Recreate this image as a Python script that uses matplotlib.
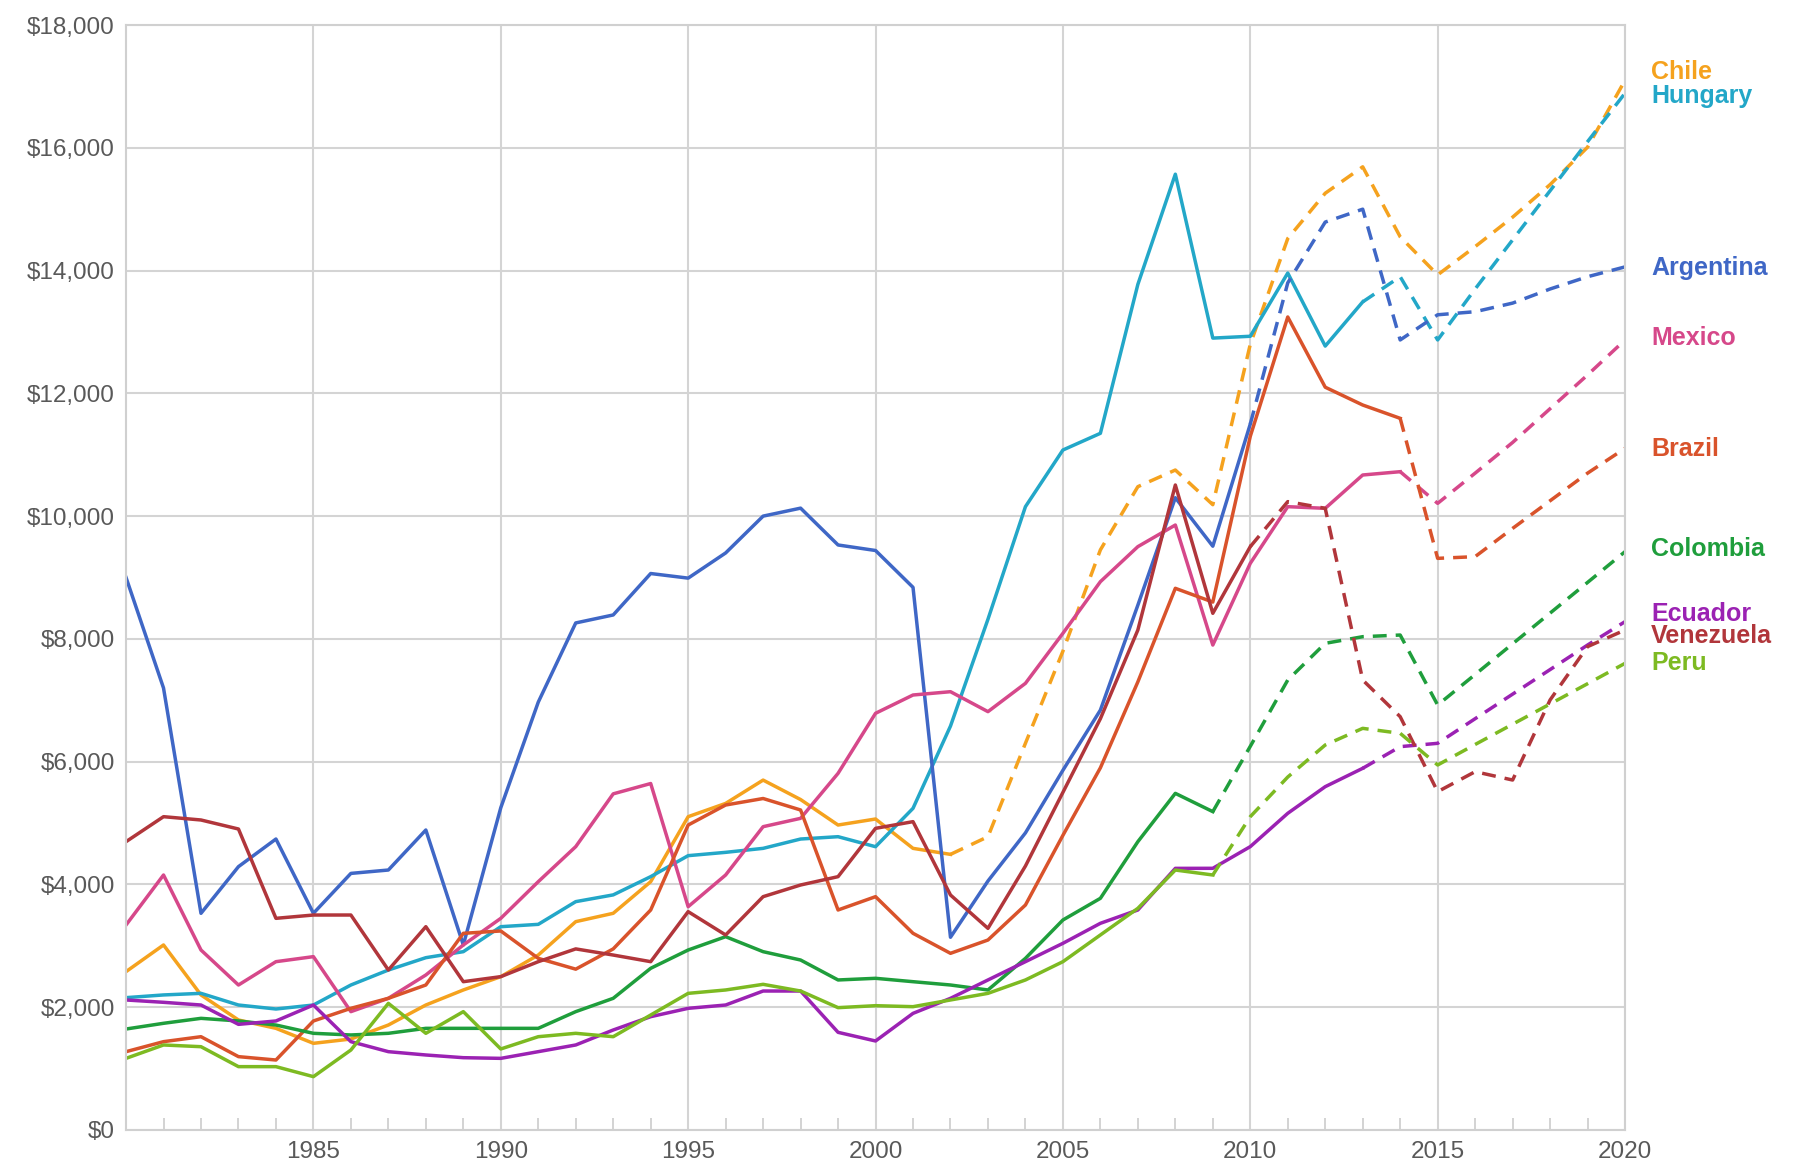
import matplotlib
matplotlib.use("Agg")
from matplotlib import pyplot as plt
from matplotlib.ticker import FuncFormatter, MultipleLocator

years = list(range(1980, 2021))

# GDP per capita estimates (dashed part = projection)
chile = [2580, 3014, 2200, 1792, 1656, 1412, 1482, 1710, 2036, 2281,
         2498, 2850, 3394, 3530, 4045, 5104, 5320, 5700, 5383, 4968,
         5066, 4588, 4490, 4778, 6300, 7800, 9450, 10480, 10751, 10186,
         12800, 14522, 15260, 15690, 14550, 13930, 14390, 14870, 15400, 16010, 17100]
hungary = [2156, 2200, 2226, 2036, 1971, 2036, 2362, 2606, 2807, 2905,
           3312, 3350, 3720, 3830, 4127, 4469, 4523, 4588, 4740, 4778,
           4615, 5240, 6580, 8320, 10154, 11077, 11349, 13775, 15570, 12900,
           12930, 13960, 12770, 13490, 13900, 12870, 13700, 14500, 15300, 16100, 16890]
argentina = [9000, 7200, 3530, 4290, 4740, 3530, 4180, 4235, 4887, 3014,
             5250, 6970, 8260, 8390, 9065, 8990, 9400, 10000, 10130, 9530,
             9440, 8840, 3140, 4056, 4840, 5860, 6840, 8550, 10300, 9510,
             11500, 13800, 14790, 15000, 12870, 13280, 13330, 13470, 13700, 13900, 14060]
mexico = [3340, 4154, 2932, 2362, 2742, 2824, 1928, 2145, 2525, 3014,
          3448, 4045, 4616, 5476, 5644, 3638, 4154, 4941, 5077, 5810,
          6788, 7086, 7140, 6815, 7276, 8091, 8932, 9503, 9855, 7900,
          9231, 10154, 10127, 10670, 10724, 10208, 10700, 11200, 11750, 12300, 12870]
brazil = [1276, 1439, 1520, 1195, 1140, 1776, 1982, 2145, 2362, 3204,
          3242, 2796, 2620, 2950, 3584, 4968, 5294, 5400, 5213, 3584,
          3801, 3204, 2878, 3095, 3665, 4800, 5900, 7300, 8824, 8600,
          11300, 13244, 12100, 11810, 11593, 9312, 9340, 9800, 10250, 10700, 11104]
colombia = [1645, 1738, 1819, 1776, 1710, 1575, 1548, 1575, 1656, 1656,
            1656, 1656, 1928, 2145, 2634, 2932, 3149, 2905, 2769, 2444,
            2471, 2416, 2362, 2281, 2796, 3421, 3774, 4697, 5484, 5186,
            6250, 7330, 7928, 8036, 8063, 6923, 7420, 7920, 8420, 8920, 9421]
ecuador = [2118, 2080, 2036, 1721, 1776, 2036, 1439, 1276, 1222, 1178,
           1167, 1276, 1385, 1629, 1846, 1982, 2036, 2264, 2264, 1591,
           1450, 1900, 2145, 2444, 2742, 3041, 3367, 3584, 4262, 4263,
           4616, 5159, 5593, 5892, 6245, 6299, 6700, 7100, 7500, 7900, 8281]
venezuela = [4697, 5104, 5050, 4903, 3448, 3502, 3502, 2606, 3312, 2416,
             2498, 2742, 2950, 2850, 2742, 3557, 3177, 3801, 3991, 4127,
             4914, 5023, 3828, 3285, 4300, 5500, 6700, 8145, 10507, 8417,
             9503, 10236, 10127, 7330, 6733, 5511, 5837, 5701, 7005, 7874, 8145]
peru = [1167, 1385, 1357, 1032, 1032, 869, 1303, 2063, 1575, 1928,
        1320, 1520, 1575, 1520, 1873, 2226, 2281, 2373, 2264, 1993,
        2025, 2009, 2118, 2226, 2444, 2742, 3177, 3611, 4235, 4154,
        5104, 5750, 6272, 6543, 6462, 5946, 6280, 6610, 6940, 7270, 7602]

names = ["Chile", "Hungary", "Argentina", "Mexico", "Brazil",
         "Colombia", "Ecuador", "Venezuela", "Peru"]
series = [chile, hungary, argentina, mexico, brazil,
          colombia, ecuador, venezuela, peru]
# year where the solid line turns into a dashed projection
dash_from = [2002, 2013, 2010, 2014, 2014, 2009, 2013, 2010, 2009]
colors = ["#f5a21e", "#23a7c8", "#3f67c6", "#d6488a", "#d9532b",
          "#1f9e3c", "#9b22b3", "#b1363b", "#7dba22"]
# where the right-hand labels sit (data units)
label_y = [17230, 16840, 14050, 12900, 11100, 9460, 8410, 8040, 7610]

fonts = ["Liberation Sans", "DejaVu Sans"]

fig = plt.figure(figsize=(17.98, 11.75), dpi=100)
ax = fig.add_axes([0.0701, 0.0383, 0.8337, 0.9404])

for name, vals, cut, col, ly in zip(names, series, dash_from, colors, label_y):
    i = years.index(cut)
    ax.plot(years[:i + 1], vals[:i + 1], color=col, lw=2.5)
    ax.plot(years[i:], vals[i:], color=col, lw=2.5, dashes=(4, 2.6))
    ax.text(2020.7, ly, name, color=col, fontsize=18, fontweight="bold",
            family=fonts, va="center", ha="left", clip_on=False)

ax.set_xlim(1980, 2020)
ax.set_ylim(0, 18000)
ax.set_xticks(range(1985, 2021, 5))
ax.xaxis.set_minor_locator(MultipleLocator(1))
ax.yaxis.set_major_locator(MultipleLocator(2000))
ax.yaxis.set_major_formatter(FuncFormatter(lambda v, p: "${:,.0f}".format(v)))

ax.grid(True, which="major", color="#d4d4d4", lw=1.5)
ax.set_axisbelow(True)
for s in ax.spines.values():
    s.set_color("#d0d0d0")
    s.set_linewidth(1.5)
ax.tick_params(which="major", length=0, pad=8, labelsize=17.5, labelcolor="#595959")
ax.tick_params(axis="x", which="minor", direction="in", length=9, color="#cccccc", width=1.2)
for lab in ax.get_xticklabels() + ax.get_yticklabels():
    lab.set_family(fonts)

fig.savefig("out.png", dpi=100)
